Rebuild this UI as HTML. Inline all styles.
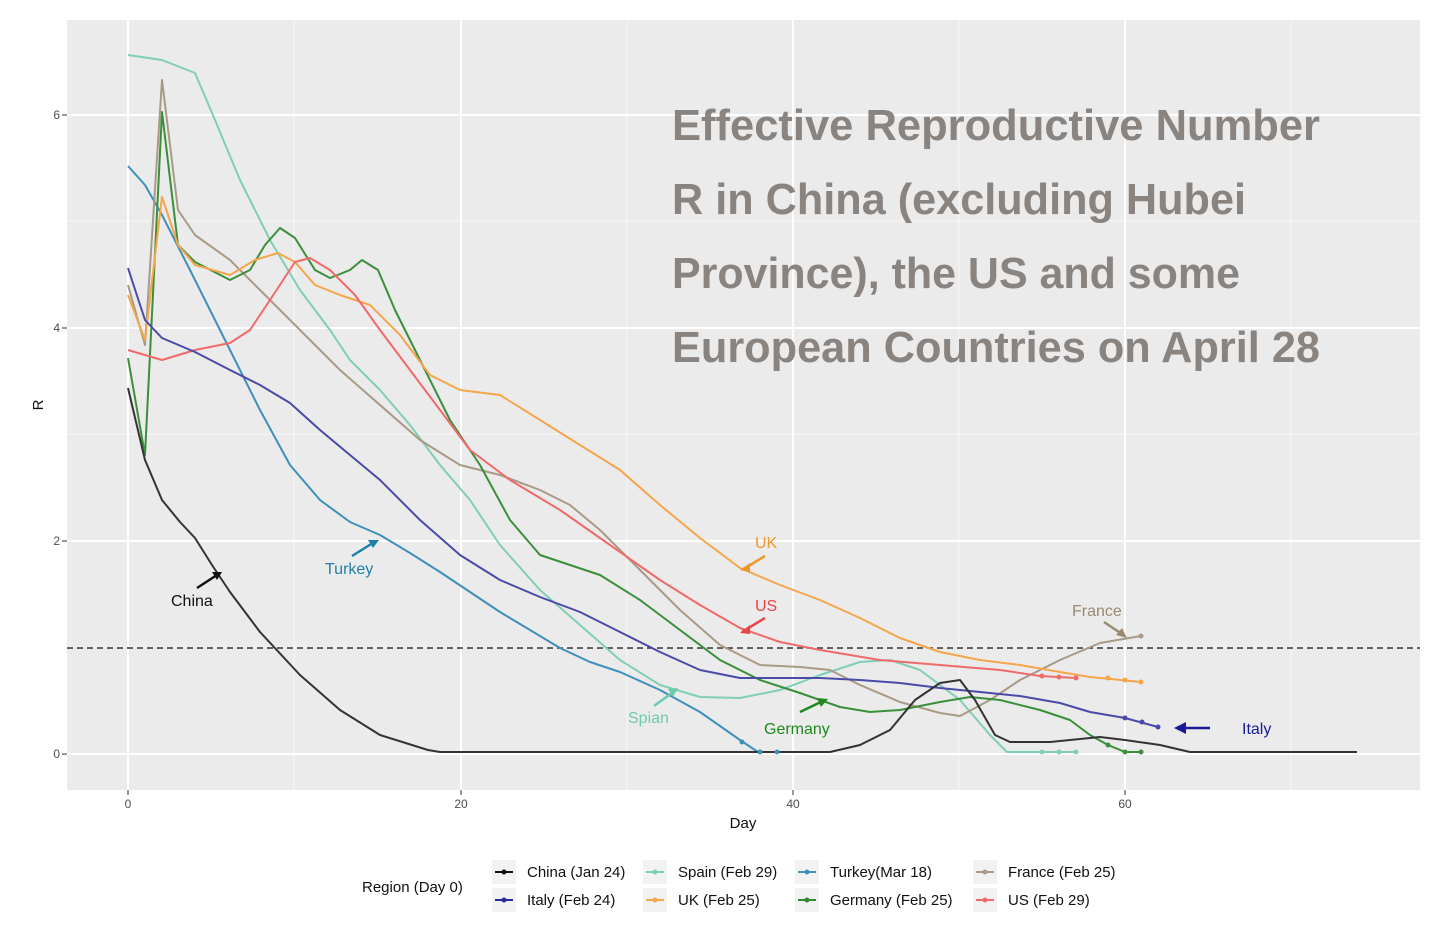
<!DOCTYPE html>
<html><head><meta charset="utf-8"><style>
body{margin:0;background:#fff;}
svg{display:block;font-family:"Liberation Sans",Arial,sans-serif;}
</style></head><body>
<svg width="1450" height="944" viewBox="0 0 1450 944" xmlns="http://www.w3.org/2000/svg">
<rect x="67" y="20" width="1353" height="770" fill="#ebebeb"/>
<g stroke="#f7f7f7" stroke-width="1">
<line x1="67" x2="1420" y1="647" y2="647"/><line x1="67" x2="1420" y1="434" y2="434"/><line x1="67" x2="1420" y1="221" y2="221"/>
<line y1="20" y2="790" x1="294" x2="294"/><line y1="20" y2="790" x1="627" x2="627"/><line y1="20" y2="790" x1="959" x2="959"/><line y1="20" y2="790" x1="1291" x2="1291"/>
</g>
<g stroke="#fff" stroke-width="2">
<line x1="67" x2="1420" y1="754" y2="754"/><line x1="67" x2="1420" y1="541" y2="541"/><line x1="67" x2="1420" y1="328" y2="328"/><line x1="67" x2="1420" y1="115" y2="115"/>
<line y1="20" y2="790" x1="128" x2="128"/><line y1="20" y2="790" x1="461" x2="461"/><line y1="20" y2="790" x1="793" x2="793"/><line y1="20" y2="790" x1="1125" x2="1125"/>
</g>
<line x1="67" x2="1420" y1="648" y2="648" stroke="#333" stroke-width="1.5" stroke-dasharray="6,4"/>
<g fill="none" stroke-width="2" stroke-linejoin="round">
<polyline stroke="#7fcfb5" points="128,55 162,60 195,73 215,120 240,180 270,240 300,290 330,330 350,360 380,390 410,425 440,465 470,500 500,545 540,590 580,625 620,660 660,685 700,697 740,698 780,690 820,675 860,662 890,660 920,670 960,700 990,735 1007,752 1076,752"/>
<polyline stroke="#3f8fbb" points="128,166 145,185 162,215 190,270 230,350 260,410 290,465 320,500 350,522 380,535 410,553 440,572 470,592 500,612 530,630 560,648 590,662 620,672 660,690 700,712 740,740 758,752 777,752"/>
<polyline stroke="#a89a87" points="128,285 145,345 162,80 178,210 195,235 230,260 260,290 300,330 340,370 380,405 420,440 460,465 500,475 540,490 570,505 600,530 640,570 680,610 720,645 760,665 800,667 830,670 860,685 900,702 940,713 960,716 990,700 1020,680 1060,660 1100,643 1141,636"/>
<polyline stroke="#3a8f3a" points="128,358 145,455 162,112 178,245 195,262 230,280 250,270 265,245 280,228 295,238 315,270 330,278 350,270 362,260 378,270 395,310 420,360 450,420 480,465 510,520 540,555 570,565 600,575 640,600 680,630 720,660 760,680 800,693 840,707 870,712 900,710 940,702 970,697 1000,700 1040,710 1070,720 1090,735 1108,745 1125,752 1141,752"/>
<polyline stroke="#f5a54a" points="128,295 145,340 162,197 178,245 195,265 230,275 255,260 278,253 295,262 315,285 340,295 370,305 400,335 430,375 460,390 500,395 540,420 580,445 620,470 660,505 700,538 740,568 780,585 820,600 860,618 900,638 940,652 980,660 1020,665 1060,672 1090,677 1141,682"/>
<polyline stroke="#f06a6a" points="128,350 162,360 195,350 230,343 250,330 270,300 295,262 310,258 330,270 355,295 380,330 410,370 440,410 470,450 510,480 560,510 610,545 660,580 700,605 740,628 780,642 820,650 880,660 940,665 1000,670 1040,676 1076,678"/>
<polyline stroke="#4a4aa8" points="128,268 145,320 162,338 195,352 230,370 260,385 290,403 320,430 350,455 380,480 420,520 460,555 500,580 540,597 580,612 620,632 660,652 700,670 740,678 780,678 820,678 860,680 900,683 940,688 980,692 1020,696 1060,703 1090,712 1125,718 1158,727"/>
<polyline stroke="#333" points="128,388 145,460 162,500 180,522 195,538 212,565 230,592 260,632 300,675 340,710 380,735 428,750 440,752 830,752 860,745 890,730 915,700 940,683 960,680 975,700 995,735 1010,742 1050,742 1100,737 1125,740 1160,745 1190,752 1357,752"/>
</g>
<g>
<circle cx="1042" cy="752" r="2.5" fill="#7fcfb5"/><circle cx="1059" cy="752" r="2.5" fill="#7fcfb5"/><circle cx="1076" cy="752" r="2.5" fill="#7fcfb5"/>
<circle cx="742" cy="742" r="2.5" fill="#3f8fbb"/><circle cx="760" cy="752" r="2.5" fill="#3f8fbb"/><circle cx="777" cy="752" r="2.5" fill="#3f8fbb"/>
<circle cx="1141" cy="636" r="2.5" fill="#a89a87"/>
<circle cx="1108" cy="745" r="2.5" fill="#3a8f3a"/><circle cx="1125" cy="752" r="2.5" fill="#3a8f3a"/><circle cx="1141" cy="752" r="2.5" fill="#3a8f3a"/>
<circle cx="1108" cy="678" r="2.5" fill="#f5a54a"/><circle cx="1125" cy="680" r="2.5" fill="#f5a54a"/><circle cx="1141" cy="682" r="2.5" fill="#f5a54a"/>
<circle cx="1042" cy="676" r="2.5" fill="#f06a6a"/><circle cx="1059" cy="677" r="2.5" fill="#f06a6a"/><circle cx="1076" cy="678" r="2.5" fill="#f06a6a"/>
<circle cx="1125" cy="718" r="2.5" fill="#4a4aa8"/><circle cx="1142" cy="722" r="2.5" fill="#4a4aa8"/><circle cx="1158" cy="727" r="2.5" fill="#4a4aa8"/>
</g>
<g stroke-width="2.5" fill="none">
<line x1="197" y1="588" x2="220" y2="573" stroke="#111"/><path d="M212,572 L222,572 L217,580Z" fill="#111" stroke="none"/>
<line x1="352" y1="556" x2="376" y2="541" stroke="#1f7fa6"/><path d="M368,540 L379,540 L373,548Z" fill="#1f7fa6" stroke="none"/>
<line x1="765" y1="556" x2="742" y2="570" stroke="#f0962a"/><path d="M740,570 L750,563 L750,572Z" fill="#f0962a" stroke="none"/>
<line x1="765" y1="618" x2="742" y2="632" stroke="#e84545"/><path d="M740,633 L750,625 L750,634Z" fill="#e84545" stroke="none"/>
<line x1="1104" y1="622" x2="1125" y2="636" stroke="#9a8a70"/><path d="M1127,638 L1116,635 L1122,628Z" fill="#9a8a70" stroke="none"/>
<line x1="800" y1="712" x2="825" y2="700" stroke="#1e8a1e"/><path d="M828,699 L817,698 L821,707Z" fill="#1e8a1e" stroke="none"/>
<line x1="654" y1="706" x2="676" y2="690" stroke="#6ccbb0"/><path d="M678,688 L668,689 L673,697Z" fill="#6ccbb0" stroke="none"/>
<line x1="1210" y1="728" x2="1180" y2="728" stroke="#1a1a99"/><path d="M1174,728 L1186,722 L1186,734Z" fill="#1a1a99" stroke="none"/>
</g>
<g font-size="16">
<text x="171" y="606" fill="#111">China</text>
<text x="325" y="574" fill="#1f7fa6">Turkey</text>
<text x="755" y="548" fill="#f0962a">UK</text>
<text x="755" y="611" fill="#e84545">US</text>
<text x="1072" y="616" fill="#9a8a70">France</text>
<text x="764" y="734" fill="#1e8a1e">Germany</text>
<text x="628" y="723" fill="#6ccbb0">Spian</text>
<text x="1242" y="734" fill="#1a1a99">Italy</text>
</g>
<g font-size="44" font-weight="bold" fill="#8a8481">
<text x="672" y="140" textLength="648" lengthAdjust="spacingAndGlyphs">Effective Reproductive Number</text>
<text x="672" y="214" textLength="574" lengthAdjust="spacingAndGlyphs">R in China (excluding Hubei</text>
<text x="672" y="288" textLength="568" lengthAdjust="spacingAndGlyphs">Province), the US and some</text>
<text x="672" y="362" textLength="648" lengthAdjust="spacingAndGlyphs">European Countries on April 28</text>
</g>
<g font-size="12" fill="#4d4d4d" text-anchor="end">
<text x="60" y="758">0</text><text x="60" y="545">2</text><text x="60" y="332">4</text><text x="60" y="119">6</text>
</g>
<g stroke="#333"><line x1="62" x2="67" y1="754" y2="754"/><line x1="62" x2="67" y1="541" y2="541"/><line x1="62" x2="67" y1="328" y2="328"/><line x1="62" x2="67" y1="115" y2="115"/>
<line y1="790" y2="795" x1="128" x2="128"/><line y1="790" y2="795" x1="461" x2="461"/><line y1="790" y2="795" x1="793" x2="793"/><line y1="790" y2="795" x1="1125" x2="1125"/></g>
<g font-size="12" fill="#4d4d4d" text-anchor="middle">
<text x="128" y="808">0</text><text x="461" y="808">20</text><text x="793" y="808">40</text><text x="1125" y="808">60</text>
</g>
<text x="743" y="828" font-size="15" text-anchor="middle" fill="#111">Day</text>
<text x="43" y="405" font-size="15" fill="#111" transform="rotate(-90 43 405)" text-anchor="middle">R</text>
<text x="362" y="892" font-size="15" fill="#111">Region (Day 0)</text>
<g font-size="15" fill="#111">
<g transform="translate(492,860)"><rect width="24" height="24" fill="#f2f2f2"/><line x1="3" x2="21" y1="12" y2="12" stroke="#111" stroke-width="2"/><circle cx="12" cy="12" r="2.5" fill="#111"/><text x="35" y="17">China (Jan 24)</text></g>
<g transform="translate(492,888)"><rect width="24" height="24" fill="#f2f2f2"/><line x1="3" x2="21" y1="12" y2="12" stroke="#2a2aa0" stroke-width="2"/><circle cx="12" cy="12" r="2.5" fill="#2a2aa0"/><text x="35" y="17">Italy (Feb 24)</text></g>
<g transform="translate(643,860)"><rect width="24" height="24" fill="#f2f2f2"/><line x1="3" x2="21" y1="12" y2="12" stroke="#7fcfb5" stroke-width="2"/><circle cx="12" cy="12" r="2.5" fill="#7fcfb5"/><text x="35" y="17">Spain (Feb 29)</text></g>
<g transform="translate(643,888)"><rect width="24" height="24" fill="#f2f2f2"/><line x1="3" x2="21" y1="12" y2="12" stroke="#f5a54a" stroke-width="2"/><circle cx="12" cy="12" r="2.5" fill="#f5a54a"/><text x="35" y="17">UK (Feb 25)</text></g>
<g transform="translate(795,860)"><rect width="24" height="24" fill="#f2f2f2"/><line x1="3" x2="21" y1="12" y2="12" stroke="#3f8fbb" stroke-width="2"/><circle cx="12" cy="12" r="2.5" fill="#3f8fbb"/><text x="35" y="17">Turkey(Mar 18)</text></g>
<g transform="translate(795,888)"><rect width="24" height="24" fill="#f2f2f2"/><line x1="3" x2="21" y1="12" y2="12" stroke="#2e8b2e" stroke-width="2"/><circle cx="12" cy="12" r="2.5" fill="#2e8b2e"/><text x="35" y="17">Germany (Feb 25)</text></g>
<g transform="translate(973,860)"><rect width="24" height="24" fill="#f2f2f2"/><line x1="3" x2="21" y1="12" y2="12" stroke="#a89a87" stroke-width="2"/><circle cx="12" cy="12" r="2.5" fill="#a89a87"/><text x="35" y="17">France (Feb 25)</text></g>
<g transform="translate(973,888)"><rect width="24" height="24" fill="#f2f2f2"/><line x1="3" x2="21" y1="12" y2="12" stroke="#f06a6a" stroke-width="2"/><circle cx="12" cy="12" r="2.5" fill="#f06a6a"/><text x="35" y="17">US (Feb 29)</text></g>
</g>
</svg>
</body></html>
